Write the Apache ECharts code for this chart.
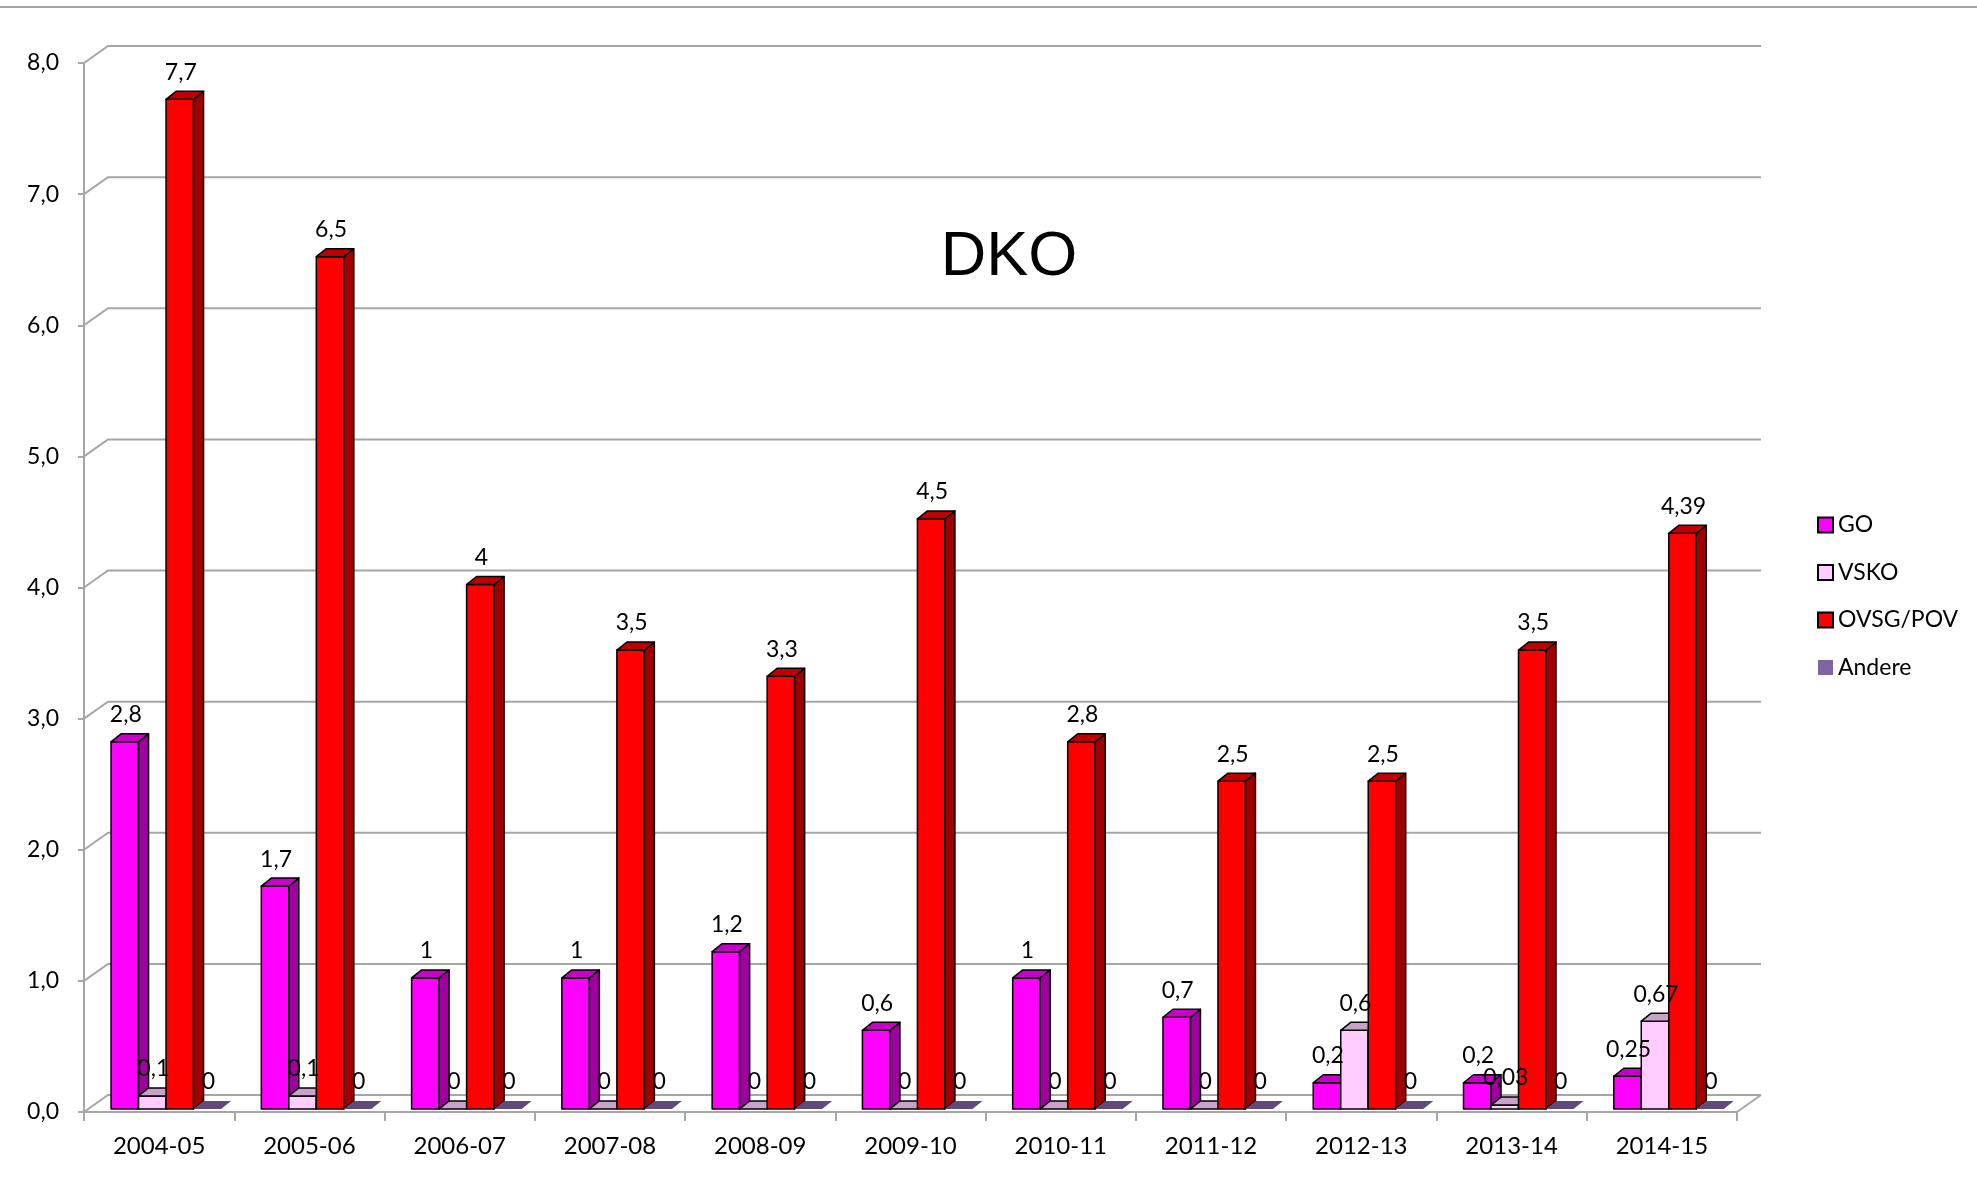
<!DOCTYPE html>
<html>
<head>
<meta charset="utf-8">
<script src="https://cdn.jsdelivr.net/npm/echarts@6/dist/echarts.min.js"></script>
<style>
  html, body { margin: 0; padding: 0; background: #ffffff; }
  #chart { width: 1977px; height: 1184px; }
</style>
</head>
<body>
<div id="chart"></div>
<script>
// ---- data ----
const categories = ['2004-05', '2005-06', '2006-07', '2007-08', '2008-09', '2009-10', '2010-11', '2011-12', '2012-13', '2013-14', '2014-15'];
const goValues     = [2.8, 1.7, 1, 1, 1.2, 0.6, 1, 0.7, 0.2, 0.2, 0.25];
const vskoValues   = [0.1, 0.1, 0, 0, 0, 0, 0, 0, 0.6, 0.03, 0.67];
const ovsgValues   = [7.7, 6.5, 4, 3.5, 3.3, 4.5, 2.8, 2.5, 2.5, 3.5, 4.39];
const andereValues = [0, 0, 0, 0, 0, 0, 0, 0, 0, 0, 0];
const seriesNames  = ['GO', 'VSKO', 'OVSG/POV', 'Andere'];
const yTicks       = [0, 1, 2, 3, 4, 5, 6, 7, 8];

// ---- styling ----
const palettes = [
  { front: '#FF00FF', side: '#A000A0', top: '#C800C8', stroke: '#000000', lw: 1.5 },
  { front: '#FFCCFF', side: '#B090B0', top: '#C8A2C8', stroke: '#000000', lw: 1.5 },
  { front: '#FF0000', side: '#A00000', top: '#C00000', stroke: '#000000', lw: 1.5 },
  { front: '#8064A2', side: '#5A4674', top: '#604A7B', stroke: null, lw: 0 }
];
const BAR_FRAC = 0.183;   // bar width as fraction of band
const LEFT_FRAC = 0.32;   // first bar left edge offset from band centre
const DEPTH_X = 10, DEPTH_Y = 8, LIFT = 3;
const FLOOR_X = 24, FLOOR_Y = 17;
const GRID_COLOR = '#A6A6A6';
const FONT = 'Lato';

function fmt(v) { return String(v).replace('.', ','); }

function boxRenderer(slot, pal) {
  return function (params, api) {
    const i = api.value(0), v = api.value(1);
    const p0 = api.coord([i, 0]);
    const p1 = api.coord([i, v]);
    const bw = api.size([1, 0])[0];
    const w = bw * BAR_FRAC;
    const xl = p0[0] - bw * LEFT_FRAC + slot * w;
    const xr = xl + w;
    const yb = p0[1] - LIFT;
    const yt = p1[1] - LIFT;
    const st = pal.stroke ? { stroke: pal.stroke, lineWidth: pal.lw, lineJoin: 'round' } : { lineWidth: 0 };
    const children = [];
    if (v > 0) {
      children.push({ type: 'polygon', z2: 1, shape: { points: [[xl, yb], [xr, yb], [xr, yt], [xl, yt]] },
        style: Object.assign({ fill: pal.front }, st) });
      children.push({ type: 'polygon', z2: 1, shape: { points: [[xr, yb], [xr + DEPTH_X, yb - DEPTH_Y], [xr + DEPTH_X, yt - DEPTH_Y], [xr, yt]] },
        style: Object.assign({ fill: pal.side }, st) });
    }
    children.push({ type: 'polygon', z2: 1, shape: { points: [[xl, yt], [xr, yt], [xr + DEPTH_X, yt - DEPTH_Y], [xl + DEPTH_X, yt - DEPTH_Y]] },
      style: Object.assign({ fill: pal.top }, st) });
    children.push({ type: 'text', z2: 50, style: {
      text: fmt(v), x: xl + w / 2 + 1, y: yt - 27, align: 'center', verticalAlign: 'middle',
      font: '23px ' + FONT, fill: '#000000' } });
    return { type: 'group', children: children };
  };
}

function gridRenderer(params, api) {
  const v = api.value(1);
  const cs = params.coordSys;
  const y = api.coord([0, v])[1];
  const style = { stroke: GRID_COLOR, lineWidth: 2, fill: null };
  const children = [{
    type: 'polyline',
    shape: { points: [[cs.x, y], [cs.x + FLOOR_X, y - FLOOR_Y], [cs.x + cs.width + FLOOR_X, y - FLOOR_Y]] },
    style: style
  }];
  if (v === 0) {
    children.push({ type: 'line', shape: { x1: cs.x + cs.width, y1: y, x2: cs.x + cs.width + FLOOR_X, y2: y - FLOOR_Y }, style: style });
  }
  return { type: 'group', children: children };
}

const valueSets = [goValues, vskoValues, ovsgValues, andereValues];

const series = [{
  type: 'custom', name: '__grid', silent: true, z: 1, clip: false,
  renderItem: gridRenderer,
  data: yTicks.map(v => [0, v]),
  encode: { x: 0, y: 1 }
}];
valueSets.forEach((vals, s) => {
  const pal = palettes[s];
  series.push({
    type: 'custom', name: seriesNames[s], z: 2, clip: false,
    renderItem: boxRenderer(s, pal),
    itemStyle: { color: pal.front, borderColor: pal.stroke || pal.front, borderWidth: pal.stroke ? 1.5 : 0 },
    data: vals.map((v, i) => [i, v]),
    encode: { x: 0, y: 1 }
  });
});

const chart = echarts.init(document.getElementById('chart'), null, { renderer: 'canvas' });
chart.setOption({
  animation: false,
  backgroundColor: '#ffffff',
  grid: { left: 84, right: 240, top: 63, bottom: 72, containLabel: false },
  legend: {
    data: seriesNames,
    orient: 'vertical', left: 1812, top: 508,
    icon: 'rect', itemWidth: 15, itemHeight: 15, itemGap: 23.5,
    textStyle: { fontFamily: FONT, fontSize: 23, lineHeight: 24, color: '#000000' }
  },
  xAxis: {
    type: 'category', data: categories,
    axisLine: { show: true, lineStyle: { color: GRID_COLOR, width: 2 } },
    axisTick: { show: true, length: 9, interval: 0, lineStyle: { color: GRID_COLOR, width: 2 } },
    axisLabel: { interval: 0, margin: 22, fontFamily: FONT, fontSize: 24, color: '#000000' },
    splitLine: { show: false }
  },
  yAxis: {
    type: 'value', min: 0, max: 8, interval: 1,
    axisLine: { show: true, lineStyle: { color: GRID_COLOR, width: 2 } },
    axisTick: { show: true, length: 6, lineStyle: { color: GRID_COLOR, width: 2 } },
    axisLabel: { margin: 25, fontFamily: FONT, fontSize: 23, color: '#000000',
      formatter: v => v.toFixed(1).replace('.', ',') },
    splitLine: { show: false }
  },
  graphic: [
    { type: 'line', silent: true, shape: { x1: 0, y1: 7, x2: 1977, y2: 7 }, style: { stroke: GRID_COLOR, lineWidth: 2 } },
    { type: 'text', silent: true, x: 1009, y: 258,
      style: { text: 'DKO', font: '63px "Liberation Sans"', align: 'center', verticalAlign: 'middle', fill: '#000000' } }
  ],
  series: series
});
</script>
</body>
</html>
